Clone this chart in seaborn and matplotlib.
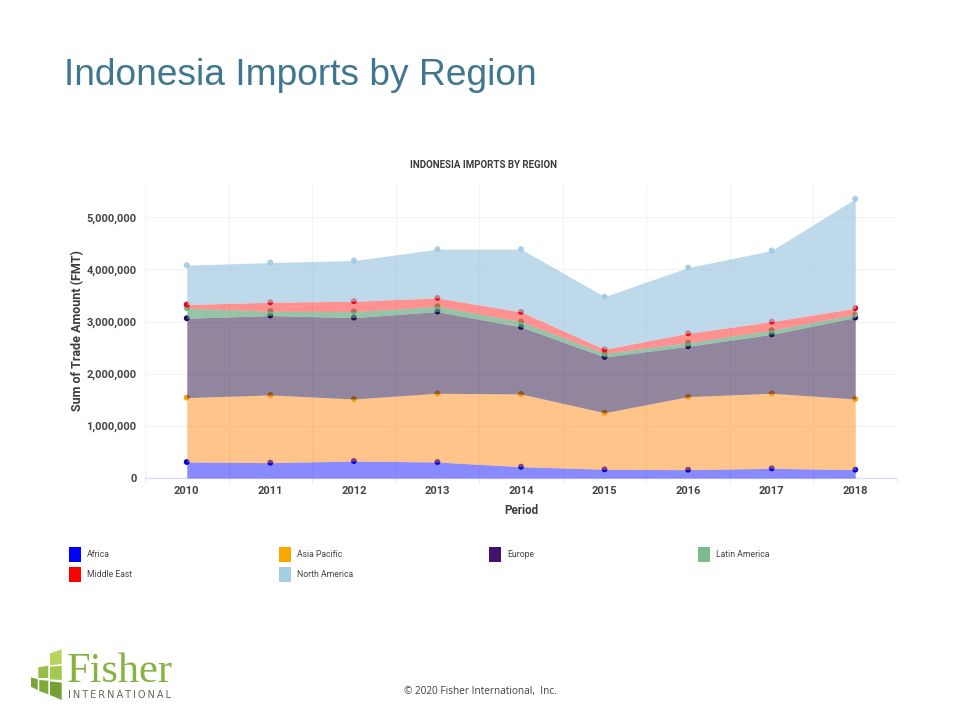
import numpy as np
import pandas as pd
import seaborn as sns
import matplotlib
matplotlib.use("Agg")
import matplotlib.pyplot as plt
from matplotlib.patches import Rectangle, Polygon
from matplotlib.ticker import FuncFormatter, MultipleLocator

# Data (FMT per region; stacked in this order)
years = [2010, 2011, 2012, 2013, 2014, 2015, 2016, 2017, 2018]
africa        = [307000, 294000, 326000, 307000, 217000, 167000, 160000, 186000, 160000]
asia_pacific  = [1235000, 1299000, 1190000, 1318000, 1395000, 1086000, 1400000, 1439000, 1356000]
europe        = [1523000, 1523000, 1561000, 1568000, 1286000, 1069000, 967000, 1132000, 1561000]
latin_america = [192000, 83000, 116000, 102000, 102000, 71000, 70000, 78000, 64000]
middle_east   = [70000, 173000, 198000, 160000, 186000, 77000, 180000, 165000, 116000]
north_america = [755000, 761000, 780000, 934000, 1203000, 1010000, 1260000, 1363000, 2098000]

regions = ["Africa", "Asia Pacific", "Europe", "Latin America", "Middle East", "North America"]
series = [africa, asia_pacific, europe, latin_america, middle_east, north_america]
legend_colors = ["#0000FF", "#FFA500", "#43116E", "#7DBB8C", "#FF0000", "#A6CEE3"]
point_colors = ["#0000E0", "#F5A00F", "#1E0A5E", "#7DBB8C", "#F00010", "#A6CEE3"]
fill_colors = ["#0000FF", "#FF8A14", "#270D3F", "#5FA67A", "#FF0F0F", "#9FC7DF"]
fill_alphas = [0.46, 0.50, 0.50, 0.66, 0.46, 0.68]
legend_rows = [["Africa", "Asia Pacific", "Europe", "Latin America"], ["Middle East", "North America"]]

title_text = "Indonesia Imports by Region"
chart_title = "INDONESIA IMPORTS BY REGION"
y_label = "Sum of Trade Amount (FMT)"
x_label = "Period"
footer = "© 2020 Fisher International,  Inc."

sns.set_theme(style="white")
plt.rcParams["font.family"] = ["Roboto", "DejaVu Sans"]

W, H = 960, 720
fig = plt.figure(figsize=(W / 100, H / 100), dpi=100, facecolor="white")

# Page layer in pixel coordinates
page = fig.add_axes([0, 0, 1, 1], zorder=0)
page.set_xlim(0, W)
page.set_ylim(H, 0)
page.axis("off")

ax = fig.add_axes([145 / W, (H - 478) / H, 752 / W, 293 / H], zorder=1)
ax.patch.set_alpha(0)

rows = []
tops = np.cumsum(np.array(series, dtype=float), axis=0)
for name, top in zip(regions, tops):
    for y, v in zip(years, top):
        rows.append({"Period": y, "Amount": v, "Region": name})
df = pd.DataFrame(rows)

# Points lie below the translucent bands
sns.scatterplot(data=df, x="Period", y="Amount", hue="Region", hue_order=regions,
                palette=dict(zip(regions, point_colors)), s=18, linewidth=0, legend=False,
                ax=ax, zorder=2, clip_on=False)

lower = np.zeros(len(years))
for top, col, a in zip(tops, fill_colors, fill_alphas):
    ax.fill_between(years, lower, top, color=col, alpha=a, linewidth=0, zorder=3)
    lower = top

ax.set_xlim(2009.5, 2018.5)
ax.set_ylim(0, 5620000)
ax.set_xticks(years)
ax.set_xticks(np.arange(2009.5, 2019.0, 1.0), minor=True)
ax.yaxis.set_major_locator(MultipleLocator(1000000))
ax.yaxis.set_major_formatter(FuncFormatter(lambda v, _: f"{int(v):,}"))
ax.grid(False)
ax.grid(True, axis="x", which="minor", color="#F1F1F6", linewidth=0.8, zorder=1)
ax.grid(True, axis="y", which="major", color="#F1F1F6", linewidth=0.8, zorder=1)
ax.set_axisbelow(True)
for s in ["top", "right", "left"]:
    ax.spines[s].set_visible(False)
ax.spines["bottom"].set_color("#DEDEF0")
ax.spines["bottom"].set_linewidth(0.9)
ax.tick_params(axis="x", which="major", length=0, pad=5.5, labelsize=8.0, labelcolor="#444444")
ax.tick_params(axis="x", which="minor", length=4, width=0.8, color="#EEEEF4", bottom=True)
ax.tick_params(axis="y", which="major", length=0, pad=6, labelsize=8.0, labelcolor="#444444")
for lab in ax.get_xticklabels() + ax.get_yticklabels():
    lab.set_fontweight("bold")
ax.set_xlabel("")
ax.set_ylabel("")

tx = dict(ha="center", va="center", fontweight="bold", color="#3C3C3C")
page.text(521, 511, x_label, fontsize=8.4, **tx)
page.text(78, 330.5, y_label, fontsize=9.0, rotation=90, **tx)
page.text(483.5, 165, chart_title, fontsize=7.0, **tx)

page.text(64, 85, title_text, fontsize=26.7, color="#3F7790", ha="left", va="baseline",
          family=["Liberation Sans"])
page.text(480.5, 691.5, footer, fontsize=7.2, color="#404040", ha="center", va="center",
          family=["Open Sans", "DejaVu Sans"])

# Legend
col_x = [69, 279, 489, 698]
row_y = [554.5, 574.5]
cmap = dict(zip(regions, legend_colors))
for ry, names in zip(row_y, legend_rows):
    for cx, name in zip(col_x, names):
        page.add_patch(Rectangle((cx, ry - 8), 12, 15, facecolor=cmap[name], edgecolor="none"))
        page.text(cx + 18, ry, name, fontsize=6.2, color="#444444", ha="left", va="center")

# Logo
logo_cells = [
    ([(50, 653.3), (61.7, 649.3), (61.7, 664), (50, 665.3)], "#B9D35F"),
    ([(38.3, 667.3), (48.3, 665.7), (48.3, 678), (38.3, 678)], "#98BE48"),
    ([(50, 666.7), (61.7, 665.7), (61.7, 680), (50, 679.3)], "#A5C850"),
    ([(31, 677.3), (37.7, 679.3), (37.7, 690), (31, 686.7)], "#7AA436"),
    ([(39.3, 680), (48.3, 680.7), (48.3, 694.3), (39.3, 691)], "#7EAA38"),
    ([(50, 681.3), (61.7, 682.7), (61.7, 700), (50, 695)], "#75A034"),
]
for pts, c in logo_cells:
    page.add_patch(Polygon(pts, closed=True, facecolor=c, edgecolor="none"))
page.text(67, 681.5, "Fisher", fontsize=30.5, color="#86B340", ha="left", va="baseline",
          family=["Liberation Serif"])
page.text(68, 698, "\u2009".join("INTERNATIONAL"), fontsize=7.0, color="#5F6B55", ha="left", va="baseline",
          family=["DejaVu Sans"])

fig.savefig("out.png", dpi=100, facecolor="white")
